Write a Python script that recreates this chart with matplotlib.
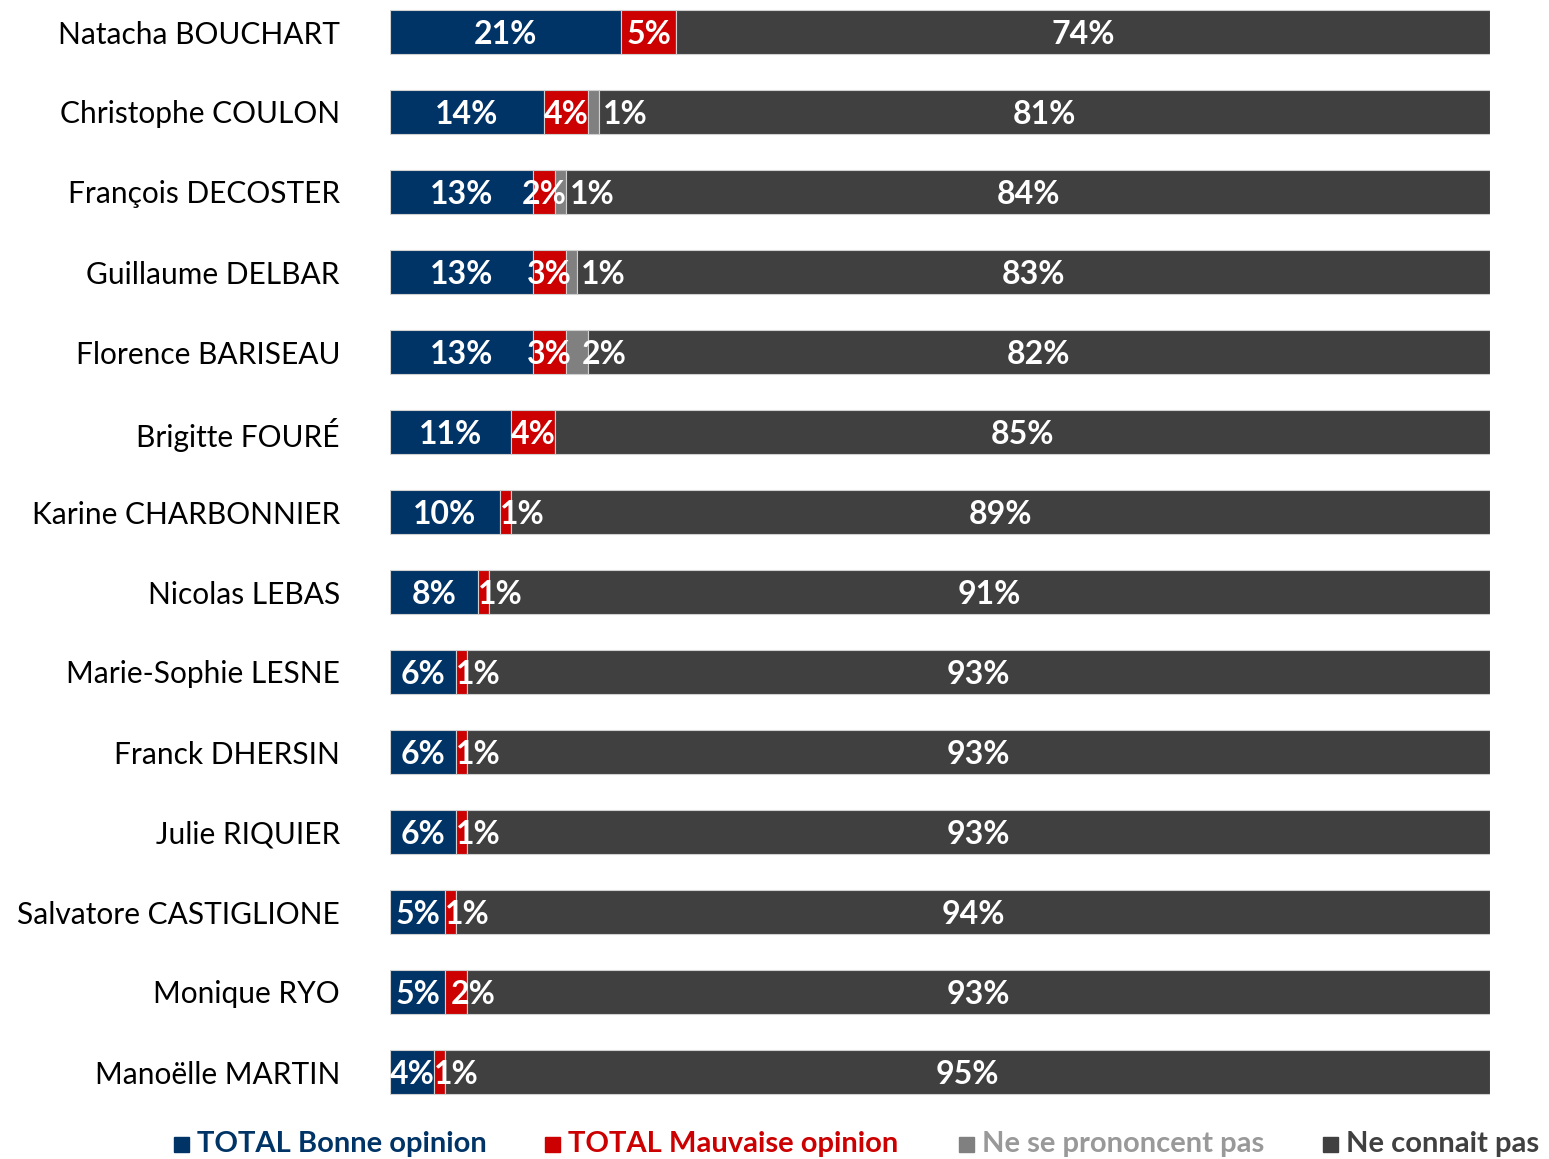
import matplotlib.pyplot as plt
from matplotlib.patches import Rectangle

names = ['Natacha BOUCHART', 'Christophe COULON', 'François DECOSTER', 'Guillaume DELBAR',
         'Florence BARISEAU', 'Brigitte FOURÉ', 'Karine CHARBONNIER', 'Nicolas LEBAS',
         'Marie-Sophie LESNE', 'Franck DHERSIN', 'Julie RIQUIER', 'Salvatore CASTIGLIONE',
         'Monique RYO', 'Manoëlle MARTIN']
bonne = [21, 14, 13, 13, 13, 11, 10, 8, 6, 6, 6, 5, 5, 4]
mauvaise = [5, 4, 2, 3, 3, 4, 1, 1, 1, 1, 1, 1, 2, 1]
nsp = [0, 1, 1, 1, 2, 0, 0, 0, 0, 0, 0, 0, 0, 0]
nconnait = [74, 81, 84, 83, 82, 85, 89, 91, 93, 93, 93, 94, 93, 95]
legend_labels = ['TOTAL Bonne opinion', 'TOTAL Mauvaise opinion', 'Ne se prononcent pas', 'Ne connait pas']

colors = ['#003366', '#CC0000', '#808080', '#404040']
text_colors = ['#003366', '#CC0000', '#999999', '#404040']

plt.rcParams['font.family'] = ['Lato', 'DejaVu Sans']

W, H = 1549, 1159
fig = plt.figure(figsize=(W / 100, H / 100), dpi=100)
ax = fig.add_axes([390 / W, 1 - 1110 / H, 1100 / W, 1110 / H])

y = list(range(len(names)))
left = [0] * len(names)
series = [bonne, mauvaise, nsp, nconnait]
for k, vals in enumerate(series):
    ax.barh(y, vals, left=left, height=0.55, color=colors[k], edgecolor='#d0d0d0', linewidth=0.8)
    for i, v in enumerate(vals):
        if v == 0:
            continue
        if k == 2:
            x, ha = left[i] + 1.4, 'left'
        elif k == 1 and (v <= 1 or i == 12):
            x, ha = left[i] + (0.5 if v > 1 else 0), 'left'
        else:
            x, ha = left[i] + v / 2, 'center'
        ax.text(x, i + 0.03, f'{v}%', ha=ha, va='center', color='white', fontsize=23,
                fontweight='bold')
    left = [a + b for a, b in zip(left, vals)]

ax.set_xlim(0, 100)
ax.set_ylim(13.475, -0.4)
ax.set_yticks(y)
ax.set_yticklabels(names, fontsize=21.5)
ax.tick_params(axis='y', length=0, pad=36)
ax.set_xticks([])
for s in ax.spines.values():
    s.set_visible(False)

# legend
leg_x = [174, 545, 959, 1323]
for k in range(4):
    fig.add_artist(Rectangle((leg_x[k] / W, 1 - 1152 / H), 15 / W, 15 / H,
                             transform=fig.transFigure, color=colors[k]))
    fig.text((leg_x[k] + 23) / W, 1 - 1144 / H, legend_labels[k], color=text_colors[k],
             fontsize=21, fontweight='bold', va='center', ha='left')

fig.savefig('out.png', dpi=100)
